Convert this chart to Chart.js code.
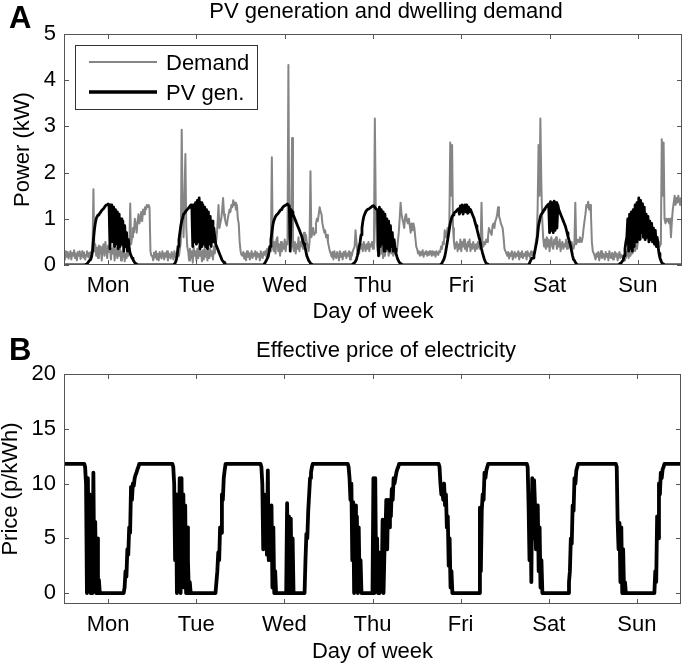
<!DOCTYPE html>
<html><head><meta charset="utf-8">
<script src="https://cdn.jsdelivr.net/npm/chart.js@4.4.1/dist/chart.umd.min.js"></script>
<style>
html,body{margin:0;padding:0;background:#fff;}
#wrap{position:relative;width:685px;height:667px;background:#fff;}
.cv{position:absolute;left:0;width:685px;}
</style></head><body>
<div id="wrap">
<div class="cv" style="top:0;height:333px"><canvas id="cA"></canvas></div>
<div class="cv" style="top:333px;height:334px"><canvas id="cB"></canvas></div>
</div>
<script>
// ---------------- DATA (quarter-hourly samples) ----------------
const dayLabels = ['Mon','Tue','Wed','Thu','Fri','Sat','Sun'];
const hoursPerStep = 0.25;
const powerTicks = [0,1,2,3,4,5];
const priceTicks = [0,5,10,15,20];

// Dwelling demand (kW)
const demandMon = [
0.25,0.12,0.3,0.18,0.28,0.14,0.22,0.3,0.12,0.26,0.2,0.32,0.15,0.25,0.1,0.28,0.2,0.3,0.13,0.24,0.3,0.16,0.27,0.12,0.22,0.3,0.18,0.26,0.12,0.28,0.2,0.32,
1.64,
0.3,0.45,0.2,0.38,0.15,0.42,0.25,0.4,0.1,0.35,0.45,0.2,0.5,0.3,0.15,0.42,0.28,0.4,0.12,0.35,0.25,0.45,0.1,0.3,0.38,0.15,0.32,0.2,0.35,0.1,0.28,0.18,0.3,0.08,0.25,0.15,0.3,0.2,0.35,
1.33,
0.45,0.6,0.8,0.7,1.0,0.85,0.7,0.95,1.1,0.9,1.0,1.15,0.95,1.2,1.1,1.25,1.2,1.3,1.25,1.3,1.25,0.3,0.2];
const demandTue = [
0.2,0.1,0.27,0.16,0.3,0.12,0.24,0.1,0.28,0.2,0.14,0.3,0.22,0.12,0.26,0.18,0.3,0.1,0.25,0.2,0.14,0.28,0.22,0.12,0.3,0.18,0.25,0.15,0.28,0.2,0.35,0.5,
2.93,1.2,0.6,1.5,2.4,0.8,0.4,
0.3,0.1,0.35,0.15,0.3,0.05,0.4,0.2,0.3,0.1,0.35,0.15,0.4,0.2,0.3,0.08,0.32,0.12,0.38,0.18,0.3,0.1,0.4,0.15,0.35,0.2,0.3,0.12,0.4,0.25,0.45,
0.6,0.9,1.3,0.8,0.9,1.0,1.2,1.45,1.1,1.0,0.9,0.85,1.0,1.1,1.2,1.15,1.3,1.25,1.4,1.3,1.35,1.2,1.3,1.0,0.9,0.5];
const demandWed = [
0.3,0.22,
0.2,0.28,0.14,0.25,0.1,0.3,0.18,0.26,0.12,0.22,0.3,0.15,0.25,0.2,0.3,0.12,0.27,0.18,0.24,0.1,0.3,0.2,0.15,0.28,0.22,0.3,0.18,0.35,0.25,0.4,0.3,0.45,
2.33,
0.4,0.3,0.5,0.25,0.55,0.6,0.3,0.45,0.2,0.5,0.3,0.45,0.35,0.55,0.3,0.5,0.45,
4.33,0.6,0.5,1.0,2.75,
0.4,0.3,0.5,0.25,0.45,0.35,0.6,0.3,0.5,0.4,0.6,0.35,0.7,0.5,0.65,0.5,0.4,0.3,0.5,
2.03,
0.6,0.7,0.8,0.65,0.7,0.9,1.0,0.95,1.1,1.25,1.15,1.1,0.9,0.8,0.7,0.75,0.6,0.65,0.5];
const demandThu = [
0.4,0.3,0.25,0.18,0.28,0.12,0.3,0.2,0.15,0.28,0.22,0.1,0.3,0.18,0.25,0.12,0.28,0.2,0.3,0.15,0.25,0.2,0.3,0.12,0.27,0.2,0.3,0.35,
0.4,0.75,0.5,0.3,0.4,0.25,0.5,0.35,0.45,0.3,0.5,0.4,0.3,0.45,0.35,0.5,0.3,0.45,0.4,0.5,0.35,0.45,
3.17,1.2,
0.5,0.3,0.4,0.2,0.35,0.25,0.4,0.15,0.3,0.2,0.4,0.3,0.45,0.2,0.3,0.35,0.25,0.4,0.2,0.3,0.25,0.35,0.3,0.5,
0.7,1.0,1.35,1.1,1.0,0.9,0.8,1.05,1.1,0.95,0.9,1.0,0.85,0.7,0.9,0.75,0.9,0.8,0.6,0.4];
const demandFri = [
0.35,0.25,0.3,0.2,0.28,0.22,0.32,0.18,0.27,0.24,0.3,0.2,0.28,0.22,0.3,0.25,0.2,0.3,0.22,0.28,0.18,0.3,0.25,0.22,0.3,0.28,
0.4,0.35,0.5,0.45,0.75,0.6,0.65,0.8,0.7,0.9,
2.65,1.5,2.6,0.8,
0.5,0.35,0.45,0.5,0.3,0.45,0.35,0.55,0.3,0.5,0.4,0.55,0.35,0.45,0.3,0.5,0.4,0.55,0.3,0.45,0.35,0.5,0.4,0.3,0.45,0.35,0.5,0.4,0.35,0.45,
1.35,
0.5,0.4,0.5,0.45,0.55,0.5,0.6,0.8,0.75,0.7,0.65,0.85,0.9,0.8,0.95,1.0,1.1,1.25,1.05,1.0,0.9,0.85,0.8,0.6,0.35];
const demandSat = [
0.3,0.25,0.2,0.28,0.14,0.25,0.2,0.3,0.12,0.22,0.28,0.16,0.25,0.2,0.3,0.12,0.26,0.18,0.3,0.15,0.24,0.2,0.28,0.12,0.3,0.2,0.25,0.15,0.3,0.22,0.28,0.2,
0.3,0.5,0.6,1.2,2.6,1.5,3.17,1.8,1.0,0.6,
0.4,0.55,0.35,0.6,0.4,0.55,0.3,0.5,0.6,0.4,0.35,0.55,0.45,0.6,0.35,0.5,0.4,0.55,0.3,0.45,0.5,0.35,0.45,0.4,0.55,0.35,0.5,0.4,0.45,0.35,0.5,0.4,0.35,0.45,
1.35,
0.45,0.5,0.55,0.5,0.6,0.55,0.5,0.6,0.8,0.95,1.1,1.3,1.25,1.37,1.2,1.3,1.1,0.5,0.3];
const demandSun = [
0.25,0.2,0.12,0.25,0.18,0.28,0.1,0.22,0.3,0.15,0.25,0.2,0.12,0.28,0.18,0.24,0.1,0.3,0.2,0.15,0.26,0.12,0.22,0.28,0.18,0.25,0.1,0.2,0.28,0.15,0.22,0.18,
0.2,0.1,0.3,0.15,0.25,0.35,0.15,0.3,0.2,0.35,0.25,0.3,0.4,0.3,0.45,0.35,
0.5,0.65,0.7,0.55,0.6,0.75,0.65,0.8,0.55,0.7,0.8,0.6,0.75,0.6,0.7,0.5,0.65,0.55,0.6,0.45,0.6,0.5,0.55,0.4,0.5,0.45,
2.72,1.5,2.65,
1.0,0.9,1.0,0.95,1.0,0.9,1.0,0.6,0.95,1.2,1.35,1.5,1.3,1.45,1.35,1.5,1.4,1.3,1.45,
1.3];

// PV generation (kW)
const pvMon = [
0,0,0,0,0,0,0,0,0,0,0,0,0,0,0,0,0,0,0,0,0,0,0,0,
0.02,0.03,0.05,0.08,0.1,0.12,0.18,0.3,
0.55,0.75,0.9,1.0,1.05,1.08,1.1,1.12,1.15,1.18,1.2,1.22,1.25,1.28,1.3,1.3,
1.32,1.3,0.35,1.3,
1.3,0.5,1.25,0.4,1.2,0.45,1.15,0.35,1.1,0.4,1.0,0.45,0.95,0.3,0.85,0.4,0.7,0.3,0.55,0.35,
0.25,0.2,0.15,0.12,0.08,0.05,0.03,0.02,
0,0,0,0,0,0,0,0,0,0,0,0,0,0,0,0];
const pvTue = [
0,0,0,0,0,0,0,0,0,0,0,0,0,0,0,0,0,0,0,0,0,0,0,0,
0.02,0.05,0.1,0.2,0.4,0.55,0.7,0.85,
0.95,1.02,1.1,1.12,1.15,1.18,1.2,1.22,1.25,1.28,1.3,1.3,
0.4,1.3,0.5,1.35,0.45,1.4,0.5,1.45,0.35,1.35,0.4,1.3,0.45,1.25,0.4,1.2,0.35,1.15,0.45,1.05,0.4,0.95,0.5,0.8,
0.6,0.45,0.4,0.35,0.3,0.25,0.2,0.15,0.1,0.08,0.05,0.03,
0,0,0,0,0,0,0,0,0,0,0,0,0,0,0,0];
const pvWed = [
0,0,0,0,0,0,0,0,0,0,0,0,0,0,0,0,0,0,0,0,0,0,0,0,0,0,
0.03,0.06,0.1,0.14,0.18,0.28,0.4,0.55,0.7,0.85,
0.95,1.0,1.05,1.08,1.1,1.12,1.15,1.18,1.2,1.22,1.25,1.27,1.28,1.3,1.3,1.32,1.3,1.28,0.3,1.2,
1.15,1.1,1.05,1.0,0.95,0.9,0.85,0.8,0.75,0.7,0.65,0.58,0.5,0.45,0.4,0.3,0.2,0.15,0.1,0.07,0.04,0.02,0.01,0,
0,0,0,0,0,0,0,0,0,0,0,0,0,0,0,0];
const pvThu = [
0,0,0,0,0,0,0,0,0,0,0,0,0,0,0,0,0,0,0,0,0,0,0,0,0,0,
0.02,0.04,0.05,0.08,0.12,0.2,0.3,0.4,0.5,0.65,
0.8,0.95,1.05,1.1,1.15,1.18,1.2,1.21,1.22,1.24,1.25,1.27,1.28,1.27,1.25,1.22,1.2,1.2,
0.2,1.25,0.4,1.2,0.45,1.15,0.3,1.1,0.4,1.0,0.35,0.95,0.3,0.85,0.4,0.7,0.3,0.55,
0.35,0.25,0.18,0.12,0.08,0.05,0.03,0.02,
0,0,0,0,0,0,0,0,0,0,0,0,0,0,0,0];
const pvFri = [
0,0,0,0,0,0,0,0,0,0,0,0,0,0,0,0,0,0,0,0,0,0,0,0,0,0,
0.02,0.05,0.08,0.12,0.18,0.28,0.4,0.52,0.65,0.78,
0.9,0.98,1.05,1.08,1.12,1.14,1.15,1.18,1.2,1.22,
1.1,1.28,1.15,1.3,1.1,1.25,1.3,1.15,1.3,1.12,1.25,1.15,1.2,1.15,
1.1,1.05,1.0,0.92,0.85,0.78,0.7,0.62,0.55,0.45,0.35,0.27,0.2,0.13,0.08,0.04,
0.02,0,0,0,0,0,0,0,0,0,0,0,0,0,0,0,0,0,0,0];
const pvSat = [
0,0,0,0,0,0,0,0,0,0,0,0,0,0,0,0,0,0,0,0,0,0,0,0,0,0,
0.03,0.08,0.12,0.15,0.15,0.2,0.3,0.4,0.5,0.65,
0.85,0.95,1.05,1.1,1.12,1.15,1.2,1.22,1.25,1.28,1.3,1.32,
0.7,1.37,0.75,1.35,0.7,1.38,0.75,1.35,0.8,1.3,
1.2,1.15,1.1,1.05,1.0,0.95,0.9,0.85,0.78,0.7,0.62,0.55,0.48,0.4,0.3,0.2,0.12,0.1,0.06,0.03,
0,0,0,0,0,0,0,0,0,0,0,0,0,0,0,0,0,0];
const pvSun = [
0,0,0,0,0,0,0,0,0,0,0,0,0,0,0,0,0,0,0,0,0,0,0,0,0,0,0,0,
0.02,0.04,0.05,0.08,0.1,0.2,0.35,0.5,
0.6,1.0,0.3,1.1,0.35,1.15,0.3,1.2,0.4,1.3,0.5,1.35,0.6,1.45,0.55,1.4,0.7,1.33,0.6,1.25,0.55,1.1,0.6,1.05,0.5,0.95,0.55,0.9,0.5,0.8,0.45,0.75,0.4,0.6,
0.4,0.25,0.15,0.1,0.05,0.03,
0.02,0,0,0,0,0,0,0,0,0,0,0,0,0,0,0,0,0,0,0,0];

// Effective price of electricity (p/kWh)
const priceMon = [
11.8,11.8,11.8,11.8,11.8,11.8,11.8,11.8,11.8,11.8, 11.8,11.8,11.8,11.8,11.8,11.8,11.8,11.8,11.8,11.8, 11.8,11.8,11.8,
11.5,10,0,10.5,2,9,0,7,0,11,1,6.5,0,5,0,1.2,0,
0,0,0,0,0,0,0,0,0,0, 0,0,0,0,0,0,0,0,0,0, 0,0,0,0,0,0,
0.5,2,1.5,4,3.5,6,5.5,9.7,8.5,10,9.8,10.5,10.8,11,11.3,11.5,11.8,
11.8,11.8,11.8,11.8,11.8,11.8,11.8,11.8,11.8,11.8, 11.8,11.8,11.8];
const priceTue = [
11.8,11.8,11.8,11.8,11.8,11.8,11.8,11.8,11.8,11.8, 11.8,11.8,11.8,11.8,11.8,11.8,11.8,11.8,11.8,11.8, 11.8,11.8,11.8,
11.5,10,3,9,0,8.5,4,10.5,0,10.5,2,9,0.5,8,0,6,3,0,1,0,
0,0,0,0,0,0,0,0,0,0, 0,0,0,0,0,0,0,0,0,0, 0,0,0,0,0,0,0,
1,2,3.7,3,6,5.5,9,8.5,10.5,11.2,11.8,
11.8,11.8,11.8,11.8,11.8,11.8,11.8,11.8,11.8,11.8, 11.8,11.8,11.8,11.8,11.8];
const priceWed = [
11.8,11.8,11.8,11.8,11.8,11.8,11.8,11.8,11.8,11.8, 11.8,11.8,11.8,11.8,11.8,11.8,11.8,11.8,11.8,11.8, 11.8,11.8,11.8,
11.5,10,4,9,5,8,3.5,11.2,3,7.5,4,8,0.5,6,0,2,0,
0,0,0,0,0,0,0,0,0,0, 0,
8.2,0,7,1,6.8,0,5,0,0,
0,0,0,0,0,0,0,0,0,0, 0,
3,5.4,5,7.5,9,10.5,11,11.5,11.8,
11.8,11.8,11.8,11.8,11.8,11.8,11.8,11.8,11.8,11.8, 11.8,11.8,11.8,11.8,11.8,11.8];
const priceThu = [
11.8,11.8,11.8,11.8,11.8,11.8,11.8,11.8,11.8,11.8, 11.8,11.8,11.8,11.8,11.8,11.8,11.8,11.8,11.8,11.8, 11.8,11.8,
11.5,10.5,8.5,10,3,8.3,0,8,2,7,0,6,0.5,3,0,0,
0,0,0,0,0,0,0,0,0,0, 0,
10.5,0,10.5,1,5,0,3.7,0,3.5,0.5,6.7,0,3.7,5,8.5,4,8.5,6,8.5,7,9.5,8.5,10.5,10,
10.5,11,11.3,11.5,11.8,11.8,
11.8,11.8,11.8,11.8,11.8,11.8,11.8,11.8,11.8,11.8, 11.8,11.8,11.8,11.8,11.8,11.8,11.8];
const priceFri = [
11.8,11.8,11.8,11.8,11.8,11.8,11.8,11.8,11.8,11.8, 11.8,11.8,11.8,11.8,11.8,11.8,11.8,11.8,11.8,11.8, 11.8,11.8,11.8,11.8,11.8,
11.5,10,9,9.5,8.5,10,8,9,6,7,2.5,5,0.5,2,0,
0,0,0,0,0,0,0,0,0,0, 0,0,0,0,0,0,0,0,0,0, 0,0,0,0,0,0,0,0,
0,7.8,2,7.5,9,8.5,11,10.5,11.2,11.5,11.8,11.8,
11.8,11.8,11.8,11.8,11.8,11.8,11.8,11.8,11.8,11.8, 11.8,11.8,11.8,11.8,11.8,11.8];
const priceSat = [
11.8,11.8,11.8,11.8,11.8,11.8,11.8,11.8,11.8,11.8, 11.8,11.8,11.8,11.8,11.8,11.8,11.8,11.8,11.8,11.8, 11.8,11.8,11.8,11.8,11.8,
11.5,8,3,9,1,10.5,5,10.3,8,4,7.5,8,2,6,0.5,3,0,
0,0,0,0,0,0,0,0,0,0, 0,0,0,0,0,0,0,0,0,0, 0,0,0,0,0,0,0,0,
1,2,5,4.5,8,7.5,10.5,10,11.2,11.5,11.8,
11.8,11.8,11.8,11.8,11.8,11.8,11.8,11.8,11.8,11.8, 11.8,11.8,11.8,11.8,11.8];
const priceSun = [
11.8,11.8,11.8,11.8,11.8,11.8,11.8,11.8,11.8,11.8, 11.8,11.8,11.8,11.8,11.8,11.8,11.8,11.8,11.8,11.8, 11.8,11.8,11.8,11.8,11.8,11.8,
11.5,6.5,4,6.4,1,6,0,4,0,1,0,
0,0,0,0,0,0,0,0,0,0, 0,0,0,0,0,0,0,0,0,0, 0,0,0,0,0,0,0,0,0,0, 0,
2,1,7,5,10,9,11,10.5,11.3,11.5,11.8,11.8,
11.8,11.8,11.8,11.8,11.8,11.8,11.8,11.8,11.8,11.8, 11.8,11.8,11.8,11.8,11.8,11.8,11.8];

// ---------------- CHART ----------------
const FONT = "'Liberation Sans', Arial, Helvetica, sans-serif";
const FS = 22;
Chart.defaults.font.family = FONT;
Chart.defaults.color = '#000';

const demand = [].concat(demandMon, demandTue, demandWed, demandThu, demandFri, demandSat, demandSun);
const pv = [].concat(pvMon, pvTue, pvWed, pvThu, pvFri, pvSat, pvSun);
const price = [].concat(priceMon, priceTue, priceWed, priceThu, priceFri, priceSat, priceSun);
const toPoints = vals => vals.map((v, i) => ({x: i * hoursPerStep / 24, y: v}));

const framePlugin = {
  id: 'frame',
  afterDatasetsDraw(chart, args, o) {
    const {ctx, chartArea: a, scales} = chart;
    ctx.save();
    ctx.strokeStyle = '#555';
    ctx.lineWidth = 1;
    ctx.strokeRect(a.left + 0.5, a.top + 0.5, a.right - a.left - 1, a.bottom - a.top - 1);
    const L = 5;
    ctx.beginPath();
    scales.x.ticks.forEach(t => {
      const px = Math.round(scales.x.getPixelForValue(t.value)) + 0.5;
      ctx.moveTo(px, a.bottom); ctx.lineTo(px, a.bottom - L);
      ctx.moveTo(px, a.top); ctx.lineTo(px, a.top + L);
    });
    scales.y.ticks.forEach(t => {
      const py = Math.round(scales.y.getPixelForValue(t.value)) + 0.5;
      ctx.moveTo(a.left, py); ctx.lineTo(a.left + L, py);
      ctx.moveTo(a.right, py); ctx.lineTo(a.right - L, py);
    });
    ctx.stroke();
    ctx.fillStyle = '#000';
    ctx.textBaseline = 'alphabetic';
    ctx.font = 'bold 31px ' + FONT;
    ctx.textAlign = 'left';
    ctx.fillText(o.letter, o.letterX, o.letterY);
    ctx.font = FS + 'px ' + FONT;
    ctx.textAlign = 'center';
    ctx.fillText(o.title, o.titleX, o.titleY);
    if (o.legend) {
      const lg = o.legend;
      ctx.fillStyle = '#fff';
      ctx.fillRect(lg.x, lg.y, lg.w, lg.h);
      ctx.strokeStyle = '#333';
      ctx.lineWidth = 1;
      ctx.strokeRect(lg.x + 0.5, lg.y + 0.5, lg.w, lg.h);
      chart.data.datasets.slice().sort((p, q) => p.legendIndex - q.legendIndex).forEach((ds, i) => {
        const y = lg.rowY[i];
        ctx.strokeStyle = ds.borderColor;
        ctx.lineWidth = ds.legendWidth;
        ctx.beginPath();
        ctx.moveTo(lg.lineX0, y); ctx.lineTo(lg.lineX1, y);
        ctx.stroke();
        ctx.fillStyle = '#000';
        ctx.font = FS + 'px ' + FONT;
        ctx.textAlign = 'left';
        ctx.textBaseline = 'middle';
        ctx.fillText(ds.label, lg.textX, y + 1.5);
      });
    }
    ctx.restore();
  }
};

function xScale(axisHeight, titlePad) {
  return {
    type: 'linear', min: 0, max: 7,
    grid: {display: false, drawTicks: false}, border: {display: false},
    afterBuildTicks: s => { s.ticks = dayLabels.map((_, i) => ({value: i + 0.5})); },
    ticks: {font: {size: FS, lineHeight: 1}, padding: 10, autoSkip: false, maxRotation: 0,
            callback: v => dayLabels[Math.floor(v)]},
    title: {display: true, text: 'Day of week', font: {size: FS, lineHeight: 1}, padding: {top: 0, bottom: titlePad}},
    afterFit: s => { s.height = axisHeight; }
  };
}
function yScale(min, max, tickVals, label, titlePad) {
  return {
    type: 'linear', min: min, max: max,
    grid: {display: false, drawTicks: false}, border: {display: false},
    afterBuildTicks: s => { s.ticks = tickVals.map(v => ({value: v})); },
    ticks: {font: {size: FS, lineHeight: 1}, padding: 8},
    title: {display: true, text: label, font: {size: FS, lineHeight: 1}, padding: {top: titlePad, bottom: 0}},
    afterFit: s => { s.width = 64; }
  };
}

new Chart(document.getElementById('cA'), {
  type: 'line',
  data: {datasets: [
    {label: 'Demand', data: toPoints(demand), borderColor: '#858585', borderWidth: 2, legendWidth: 2, legendIndex: 0, order: 2},
    {label: 'PV gen.', data: toPoints(pv), borderColor: '#000', borderWidth: 2.8, legendWidth: 3.5, legendIndex: 1, order: 1}
  ]},
  options: {
    responsive: true, maintainAspectRatio: false, animation: false,
    layout: {padding: {top: 34, right: 3, left: 0, bottom: 0}},
    elements: {point: {radius: 0}, line: {tension: 0, borderJoinStyle: 'round'}},
    plugins: {
      legend: {display: false}, tooltip: {enabled: false},
      frame: {letter: 'A', letterX: 9, letterY: 28, title: 'PV generation and dwelling demand', titleX: 386, titleY: 18,
              legend: {x: 75, y: 45, w: 182, h: 64, rowY: [62, 92], lineX0: 89, lineX1: 157, textX: 166}}
    },
    scales: {x: xScale(68, 10.5), y: yScale(0, 5, powerTicks, 'Power (kW)', 12)}
  },
  plugins: [framePlugin]
});

new Chart(document.getElementById('cB'), {
  type: 'line',
  data: {datasets: [
    {label: 'Price', data: toPoints(price), borderColor: '#000', borderWidth: 3.8}
  ]},
  options: {
    responsive: true, maintainAspectRatio: false, animation: false,
    layout: {padding: {top: 41, right: 4, left: 0, bottom: 0}},
    elements: {point: {radius: 0}, line: {tension: 0, borderJoinStyle: 'round'}},
    plugins: {
      legend: {display: false}, tooltip: {enabled: false},
      frame: {letter: 'B', letterX: 9, letterY: 27, title: 'Effective price of electricity', titleX: 386, titleY: 24}
    },
    scales: {x: xScale(63, 4.5), y: yScale(-1, 20, priceTicks, 'Price (p/kWh)', 0)}
  },
  plugins: [framePlugin]
});
</script>
</body></html>
